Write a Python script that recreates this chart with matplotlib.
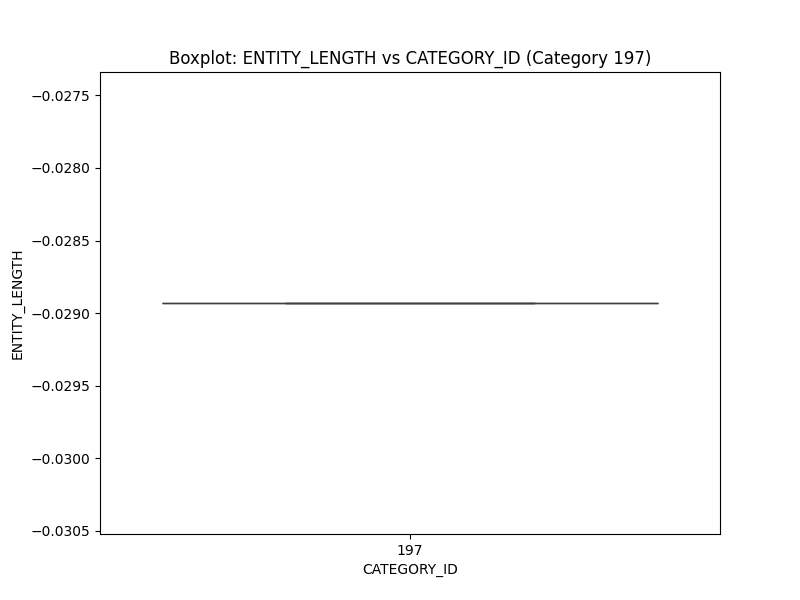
import matplotlib
matplotlib.use("Agg")
import matplotlib.pyplot as plt
import pandas as pd
import seaborn as sns

# all entries in this category share one value
category_ids = [197, 197, 197, 197, 197]
entity_length = [-0.02893, -0.02893, -0.02893, -0.02893, -0.02893]

df = pd.DataFrame({"CATEGORY_ID": category_ids, "ENTITY_LENGTH": entity_length})

fig, ax = plt.subplots(figsize=(8, 6), dpi=100)
sns.boxplot(data=df, x="CATEGORY_ID", y="ENTITY_LENGTH", ax=ax)
ax.set_title("Boxplot: ENTITY_LENGTH vs CATEGORY_ID (Category 197)")
fig.savefig("out.png")
